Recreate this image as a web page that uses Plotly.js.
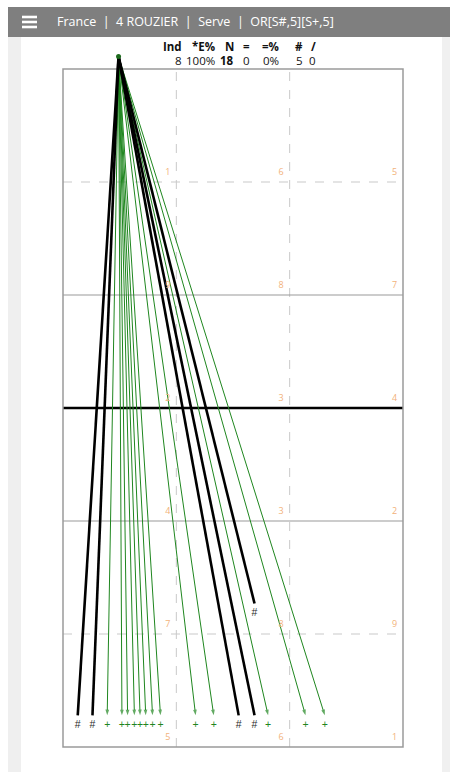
<!DOCTYPE html>
<html><head><meta charset="utf-8">
<script src="https://cdn.plot.ly/plotly-3.0.1.min.js"></script>
<style>html,body{margin:0;padding:0;background:#fff;}#chart{width:450px;height:772px;}</style>
</head><body><div id="chart"></div>
<script>
// ---- data (court units: columns 0..3, rows 0..6 from bottom) ----
const headerText = "France  |  4 ROUZIER  |  Serve  |  OR[S#,5][S+,5]";
const statHeaders = ["Ind", "*E%", "N", "=", "=%", "#", "/"];
const statValues  = ["8", "100%", "18", "0", "0%", "5", "0"];
const startX = 0.49, startY = 6.11;
// serve end points
const endX    = [0.13, 0.26, 0.39, 0.52, 0.57, 0.63, 0.68, 0.73, 0.79, 0.86, 1.17, 1.33, 1.55, 1.69, 1.81, 2.14, 2.31, 1.69];
const endY    = [0.28, 0.28, 0.28, 0.28, 0.28, 0.28, 0.28, 0.28, 0.28, 0.28, 0.28, 0.28, 0.28, 0.28, 0.28, 0.28, 0.28, 1.27];
const endCode = ["#", "#", "+", "+", "+", "+", "+", "+", "+", "+", "+", "+", "#", "#", "+", "+", "+", "#"];
const zoneRows = [["5","6","1"],["7","8","9"],["4","3","2"],["2","3","4"],["9","8","7"],["1","6","5"]]; // bottom row first

// ---- geometry / style ----
const W = 450, H = 772;
const PXU = 340/3, PXV = 113, X0 = 63, Y0 = 747;
const GREEN = "#1f861f";
const px = x => x / W, py = y => 1 - y / H;

const traces = [];
// green lines with arrowheads first, black lines on top
[false, true].forEach(isBlack => {
  endX.forEach((ex, i) => {
    const black = endCode[i] === "#";
    if (black !== isBlack) return;
    if (black) {
      traces.push({x:[startX, ex], y:[startY, endY[i]], mode:"lines", type:"scatter",
        line:{color:"#000", width:2.6}, hoverinfo:"skip", showlegend:false});
    } else {
      traces.push({x:[startX, ex], y:[startY, endY[i]], mode:"lines+markers", type:"scatter",
        line:{color:GREEN, width:1},
        marker:{symbol:["circle","arrow"], size:[0,6], angleref:"previous", color:GREEN, line:{width:0}},
        hoverinfo:"skip", showlegend:false});
    }
  });
});
// end labels
traces.push({x:endX, y:endY.map(v => v - 0.085), mode:"text", type:"scatter", text:endCode,
  textfont:{family:"Liberation Sans, sans-serif", size:10.5, color:endCode.map(c => c === "#" ? "#2a2a2a" : GREEN)},
  hoverinfo:"skip", showlegend:false});
// start point
traces.push({x:[startX], y:[startY], mode:"markers", type:"scatter",
  marker:{symbol:"circle", size:5, color:"#1d6b1d"}, hoverinfo:"skip", showlegend:false});
// zone numbers
const zx = [], zy = [], zt = [];
zoneRows.forEach((row, r) => row.forEach((t, c) => { zx.push(c + 0.925); zy.push(r + 0.085); zt.push(t); }));
traces.push({x:zx, y:zy, mode:"text", type:"scatter", text:zt,
  textfont:{family:"Open Sans, sans-serif", size:9, color:"#f2b27a"}, hoverinfo:"skip", showlegend:false});

// ---- shapes ----
const shapes = [
  // page decor
  {type:"rect", xref:"paper", yref:"paper", x0:px(8), x1:px(21), y0:py(37), y1:0, fillcolor:"#efefef", line:{width:0}, layer:"below"},
  {type:"rect", xref:"paper", yref:"paper", x0:px(442), x1:1, y0:py(37), y1:0, fillcolor:"#f0f0f0", line:{width:0}, layer:"below"},
  {type:"rect", xref:"paper", yref:"paper", x0:px(8), x1:1, y0:py(7), y1:py(37), fillcolor:"#7f7f7f", line:{width:0}, layer:"below"},
];
[17, 22, 27].forEach(y => shapes.push({type:"rect", xref:"paper", yref:"paper", x0:px(22), x1:px(37), y0:py(y-1.3), y1:py(y+1.3), fillcolor:"#fff", line:{width:0}}));
// court grid
[1, 2].forEach(c => shapes.push({type:"line", x0:c, x1:c, y0:0, y1:6, line:{color:"#c9c9c9", width:1, dash:"dash"}, layer:"below"}));
[1, 5].forEach(r => shapes.push({type:"line", x0:0, x1:3, y0:r, y1:r, line:{color:"#c9c9c9", width:1, dash:"dash"}, layer:"below"}));
[2, 4].forEach(r => shapes.push({type:"line", x0:0, x1:3, y0:r, y1:r, line:{color:"#999", width:1}, layer:"below"}));
shapes.push({type:"line", x0:0, x1:3, y0:3, y1:3, line:{color:"#000", width:2.5}, layer:"below"});
shapes.push({type:"rect", x0:0, x1:3, y0:0, y1:6, line:{color:"#9a9a9a", width:1.5}, layer:"below"});

// ---- annotations ----
const annotations = [
  {xref:"paper", yref:"paper", x:px(55), y:py(22), xanchor:"left", yanchor:"middle", showarrow:false,
   text:headerText, font:{family:"Open Sans, sans-serif", size:12.5, color:"#fff"}}
];
const colRight = [184, 217, 236, 252, 281, 305, 318];
statHeaders.forEach((t, i) => annotations.push({xref:"paper", yref:"paper", x:px(colRight[i]), y:py(47), xanchor:"right", yanchor:"middle",
  showarrow:false, text:"<b>"+t+"</b>", font:{family:"Open Sans, sans-serif", size:11.5, color:"#111"}}));
statValues.forEach((t, i) => annotations.push({xref:"paper", yref:"paper", x:px(colRight[i]), y:py(60), xanchor:"right", yanchor:"middle",
  showarrow:false, text:(statHeaders[i] === "N" ? "<b>"+t+"</b>" : t), font:{family:"Open Sans, sans-serif", size:11.5, color:"#111"}}));

const layout = {
  width:W, height:H, margin:{l:0, r:0, t:0, b:0},
  paper_bgcolor:"#fff", plot_bgcolor:"rgba(0,0,0,0)",
  xaxis:{range:[-X0/PXU, (W-X0)/PXU], visible:false, fixedrange:true},
  yaxis:{range:[(Y0-H)/PXV, Y0/PXV], visible:false, fixedrange:true},
  shapes, annotations, showlegend:false
};
Plotly.newPlot("chart", traces, layout, {displayModeBar:false, staticPlot:true});
</script></body></html>
